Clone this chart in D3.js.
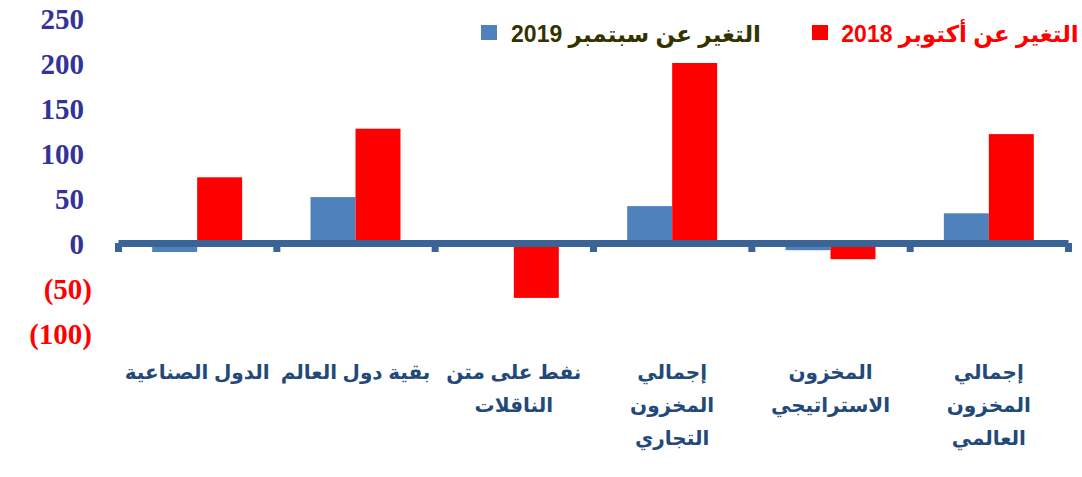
<!DOCTYPE html>
<html>
<head>
<meta charset="utf-8">
<script src="https://cdn.jsdelivr.net/npm/d3@7"></script>
<style>
	body { margin: 0; background: #fff; }
	svg { display: block; }
</style>
</head>
<body>
<div id="chart"></div>
<script>
// categories left to right, lines split where the label wraps
const categories = [
	"الدول الصناعية",
	"بقية دول العالم",
	"نفط على متن\nالناقلات",
	"إجمالي\nالمخزون\nالتجاري",
	"المخزون\nالاستراتيجي",
	"إجمالي\nالمخزون\nالعالمي"
];
const seriesNames = ["التغير عن سبتمبر 2019", "التغير عن أكتوبر 2018"];
const changeSep2019 = [-10, 51, 0, 41, -8, 33];
const changeOct2018 = [73, 127, -61, 200, -18, 121];
const yTicks = [-100, -50, 0, 50, 100, 150, 200, 250];

const colors = ["#4f81bd", "#ff0000"];
const legendText = ["#333300", "#ff0000"];

const width = 1082;
const height = 477;

const data = categories.map((c, i) => ({
	cat: c,
	values: [changeSep2019[i], changeOct2018[i]]
}));

const svg = d3.select("#chart")
	.append("svg")
		.attr("width", width)
		.attr("height", height);

const x = d3.scaleBand()
	.domain(categories)
	.range([118, 1068])
	.padding(0);

const xs = d3.scaleBand()
	.domain([0, 1])
	.range([0, x.bandwidth()])
	.paddingInner(0)
	.paddingOuter(0.76);

const y = d3.scaleLinear()
	.domain([-100, 250])
	.range([333, 18]);

// y labels
const yAxis = svg.append("g")
	.attr("transform", "translate(92,0)")
	.call(d3.axisLeft(y)
		.tickValues(yTicks)
		.tickSize(0)
		.tickPadding(0)
		.tickFormat((d) => d < 0 ? `(${-d})` : d));
yAxis.select(".domain").remove();
yAxis.selectAll("text")
	.attr("x", (d) => d < 0 ? 0 : -8)
	.attr("dy", "0.35em")
	.attr("fill", (d) => d < 0 ? "#ff0000" : "#333399")
	.style("font-family", "'Liberation Serif', 'Times New Roman', serif")
	.style("font-weight", "bold")
	.style("font-size", "29px");

// bars
const groups = svg.append("g")
	.selectAll("g")
	.data(data).enter()
	.append("g")
		.attr("transform", (d) => `translate(${x(d.cat)},0)`);

groups.selectAll("rect")
	.data((d) => d.values.map((v, i) => ({ v, i })))
	.enter()
	.append("rect")
		.attr("x", (d) => xs(d.i))
		.attr("width", xs.bandwidth())
		.attr("y", (d) => y(Math.max(0, d.v)))
		.attr("height", (d) => Math.abs(y(d.v) - y(0)))
		.attr("fill", (d) => colors[d.i]);

// category axis along zero
const xb = d3.scaleLinear()
	.domain([0, categories.length])
	.range(x.range());

const xAxis = svg.append("g")
	.attr("transform", `translate(0,${y(0)})`)
	.call(d3.axisBottom(xb)
		.ticks(categories.length)
		.tickSize(9)
		.tickSizeOuter(0)
		.tickFormat(""));
xAxis.select(".domain")
	.attr("stroke", "#3a6496")
	.attr("stroke-width", 7);
xAxis.selectAll(".tick line")
	.attr("stroke", "#3a6496")
	.attr("stroke-width", 7);

// category labels
const labels = svg.append("g")
	.selectAll("text")
	.data(categories).enter()
	.append("text")
		.attr("x", (d) => x(d) + x.bandwidth() / 2)
		.attr("y", 379)
		.attr("text-anchor", "middle")
		.attr("direction", "rtl")
		.attr("fill", "#23497a")
		.style("font-family", "'Liberation Sans', 'DejaVu Sans', sans-serif")
		.style("font-weight", "bold")
		.style("font-size", "20px");

labels.selectAll("tspan")
	.data((d) => d.split("\n"))
	.enter()
	.append("tspan")
		.attr("x", function() { return this.parentNode.getAttribute("x"); })
		.attr("dy", (d, i) => i === 0 ? 0 : 33)
		.text((d) => d);

// legend
const legendPos = [
	{ box: 481, text: 636 },
	{ box: 812, text: 960 }
];

const legend = svg.append("g")
	.selectAll("g")
	.data(seriesNames).enter()
	.append("g");

legend.append("rect")
	.attr("x", (d, i) => legendPos[i].box)
	.attr("y", 25)
	.attr("width", 16)
	.attr("height", 15)
	.attr("fill", (d, i) => colors[i]);

legend.append("text")
	.attr("x", (d, i) => legendPos[i].text)
	.attr("y", 42)
	.attr("text-anchor", "middle")
	.attr("direction", "rtl")
	.attr("fill", (d, i) => legendText[i])
	.style("font-family", "'Liberation Sans', 'DejaVu Sans', sans-serif")
	.style("font-weight", "bold")
	.style("font-size", "23px")
	.text((d) => d);
</script>
</body>
</html>
